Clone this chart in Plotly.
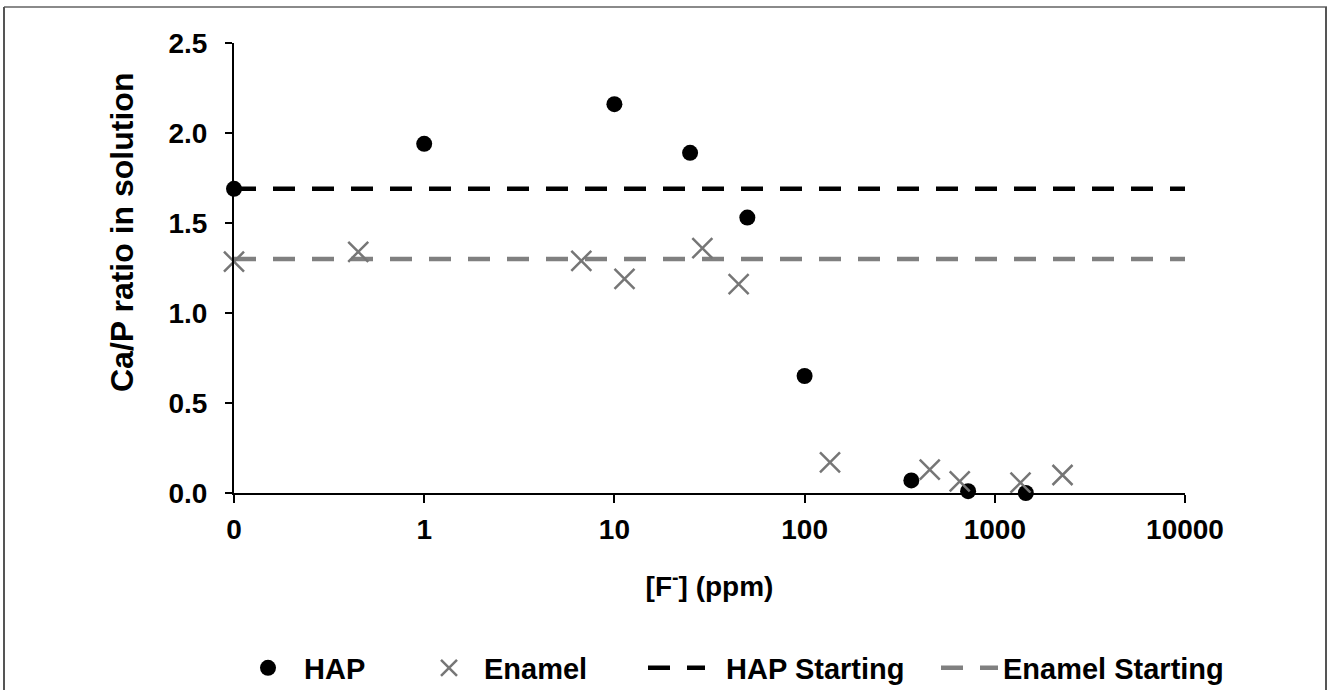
import plotly.graph_objects as go

# ---- data ----
hap_x = [0.1, 1, 10, 25, 50, 100, 364, 724, 1456]
hap_y = [1.69, 1.94, 2.16, 1.89, 1.53, 0.65, 0.07, 0.01, 0.0]
enamel_x = [0.1, 0.45, 6.7, 11.3, 29, 45, 136, 455, 654, 1365, 2270]
enamel_y = [1.285, 1.34, 1.29, 1.19, 1.36, 1.16, 0.17, 0.13, 0.065, 0.057, 0.10]
line_x = [0.1, 10000]
hap_start = 1.69
enamel_start = 1.30
tick_vals = [0.1, 1, 10, 100, 1000, 10000]
tick_text = ["0", "1", "10", "100", "1000", "10000"]
y_ticks = [0.0, 0.5, 1.0, 1.5, 2.0, 2.5]

W, H = 1328, 690
L, R, T, B = 234, 143, 43, 197
PW = W - L - R
PH = H - T - B

def px_x(p):
    return (p - L) / PW

def px_y(p):
    return (H - B - p) / PH

FONT = "Liberation Sans, Arial, sans-serif"
FS = 28
LFS = 29
GRAY = "#767676"
DASH = "22px,17px"

fig = go.Figure()
fig.add_trace(go.Scatter(x=line_x, y=[hap_start] * 2, mode="lines",
                         name="<b>\u00a0\u00a0HAP Starting</b>",
                         line=dict(color="black", width=4.5, dash=DASH),
                         legend="legend3"))
fig.add_trace(go.Scatter(x=line_x, y=[enamel_start] * 2, mode="lines",
                         name="<b>Enamel Starting</b>",
                         line=dict(color="#808080", width=4.5, dash=DASH),
                         legend="legend4"))
fig.add_trace(go.Scatter(x=hap_x, y=hap_y, mode="markers", name="<b>HAP</b>",
                         marker=dict(symbol="circle", size=16, color="black"),
                         cliponaxis=False, legend="legend"))
fig.add_trace(go.Scatter(x=enamel_x, y=enamel_y, mode="markers", name="<b>Enamel</b>",
                         marker=dict(symbol="x-thin", size=20, color=GRAY,
                                     line=dict(color=GRAY, width=2.5)),
                         cliponaxis=False, legend="legend2"))

leg_common = dict(orientation="h", font=dict(family=FONT, size=LFS, color="black"),
                  bgcolor="rgba(0,0,0,0)", yanchor="middle", xanchor="left",
                  y=px_y(668))

fig.update_layout(
    width=W, height=H,
    margin=dict(l=L, r=R, t=T, b=B, autoexpand=False),
    paper_bgcolor="white", plot_bgcolor="white",
    font=dict(family=FONT, size=FS, color="black"),
    showlegend=True,
    legend=dict(**leg_common, x=px_x(232), itemwidth=62),
    legend2=dict(**leg_common, x=px_x(414), itemwidth=60),
    legend3=dict(**leg_common, x=px_x(643), itemwidth=57),
    legend4=dict(**leg_common, x=px_x(936), itemwidth=57),
    xaxis=dict(type="log", range=[-1, 4], tickvals=tick_vals,
               ticktext=[f"<b>{t}</b>" for t in tick_text],
               showgrid=False, zeroline=False, showline=True, linecolor="black", linewidth=2,
               ticks="outside", ticklen=8, tickwidth=2, tickcolor="black",
               ticklabelstandoff=2,
               tickfont=dict(family=FONT, size=FS, color="black"),
               title=dict(text="<b>[F<sup>-</sup>] (ppm)</b>", font=dict(family=FONT, size=FS),
                          standoff=33)),
    yaxis=dict(range=[0, 2.5], tickvals=y_ticks, ticktext=[f"<b>{v:.1f}</b>" for v in y_ticks],
               showgrid=False, zeroline=False, showline=True, linecolor="black", linewidth=2,
               ticks="outside", ticklen=7, tickwidth=2, tickcolor="black",
               ticklabelstandoff=12,
               tickfont=dict(family=FONT, size=FS, color="black")),
)

# y-axis title (positioned as in the reference, off-centre)
fig.add_annotation(text="<b>Ca/P ratio in solution</b>", textangle=-90,
                   xref="paper", yref="paper", x=px_x(122), y=px_y(233),
                   xanchor="center", yanchor="middle", showarrow=False,
                   font=dict(family=FONT, size=32, color="black"))

border = dict(color="#8a8a8a", width=2)
fig.add_shape(type="line", xref="paper", yref="paper", x0=px_x(4), x1=px_x(1327),
              y0=px_y(7), y1=px_y(7), line=border)
fig.add_shape(type="line", xref="paper", yref="paper", x0=px_x(4), x1=px_x(4),
              y0=px_y(7), y1=px_y(700), line=dict(color="#555555", width=2))
fig.add_shape(type="line", xref="paper", yref="paper", x0=px_x(1326), x1=px_x(1326),
              y0=px_y(7), y1=px_y(700), line=dict(color="#555555", width=2))

fig.write_html("out.html", config={"displayModeBar": False},
               post_script="document.body.style.margin='0';")
